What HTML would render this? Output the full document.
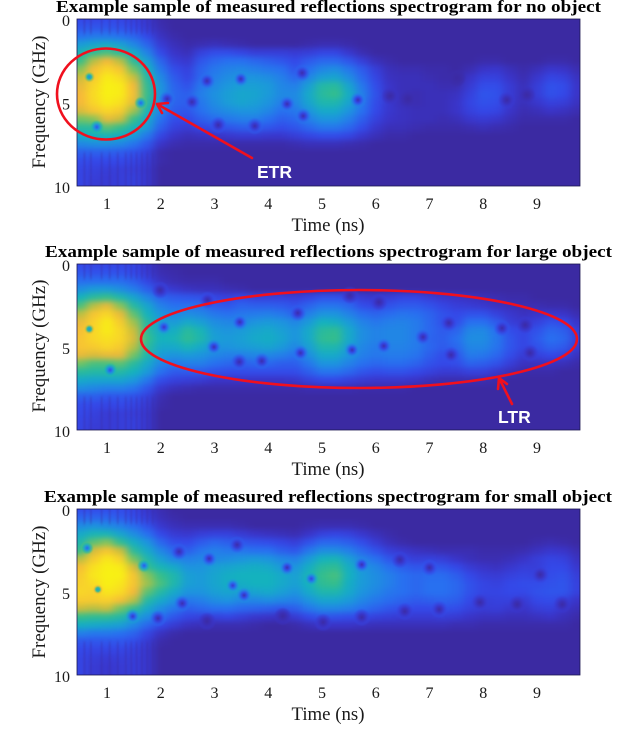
<!DOCTYPE html>
<html lang="en">
<head>
<meta charset="utf-8">
<title>Measured reflections spectrograms</title>
<style>
html,body{margin:0;padding:0;background:#fff;}
svg{display:block;}
text{font-family:"Liberation Serif",serif;fill:#1a1a1a;}
.title{font-weight:bold;font-size:16.5px;fill:#000;}
.tick{font-size:16px;}
.axt{font-size:18.5px;}
.note{font-family:"Liberation Sans",sans-serif;font-weight:bold;font-size:17.5px;fill:#fff;}
</style>
</head>
<body>
<svg id="figure" xmlns="http://www.w3.org/2000/svg" width="640" height="756" viewBox="0 0 640 756">
  <defs id="defs">
    <filter id="smooth" filterUnits="userSpaceOnUse" x="0" y="0" width="640" height="756" color-interpolation-filters="sRGB">
      <feGaussianBlur stdDeviation="4.5 3"/>
    </filter>
    <filter id="soft" filterUnits="userSpaceOnUse" x="0" y="0" width="640" height="756" color-interpolation-filters="sRGB">
      <feGaussianBlur stdDeviation="0.7 1.5"/>
    </filter>
    <clipPath id="clip0"><rect x="77" y="19" width="503" height="167"/></clipPath>
    <clipPath id="clip1"><rect x="77" y="264" width="503" height="166"/></clipPath>
    <clipPath id="clip2"><rect x="77" y="509" width="503" height="166"/></clipPath>
  </defs>
  <rect x="0" y="0" width="640" height="756" fill="#fff"/>

  <text class="title" x="56" y="12" textLength="545" lengthAdjust="spacingAndGlyphs">Example sample of measured reflections spectrogram for no object</text>
  <text class="title" x="45" y="257" textLength="567" lengthAdjust="spacingAndGlyphs">Example sample of measured reflections spectrogram for large object</text>
  <text class="title" x="44" y="502" textLength="568" lengthAdjust="spacingAndGlyphs">Example sample of measured reflections spectrogram for small object</text>

  <g id="panel0"></g>
  <g id="panel1"></g>
  <g id="panel2"></g>

  <text class="axt" x="328" y="231" text-anchor="middle" textLength="73" lengthAdjust="spacingAndGlyphs">Time (ns)</text>
  <text class="axt" x="328" y="475" text-anchor="middle" textLength="73" lengthAdjust="spacingAndGlyphs">Time (ns)</text>
  <text class="axt" x="328" y="720" text-anchor="middle" textLength="73" lengthAdjust="spacingAndGlyphs">Time (ns)</text>

  <text class="axt" transform="translate(45 102) rotate(-90)" text-anchor="middle" textLength="133" lengthAdjust="spacingAndGlyphs">Frequency (GHz)</text>
  <text class="axt" transform="translate(45 346) rotate(-90)" text-anchor="middle" textLength="133" lengthAdjust="spacingAndGlyphs">Frequency (GHz)</text>
  <text class="axt" transform="translate(45 592) rotate(-90)" text-anchor="middle" textLength="133" lengthAdjust="spacingAndGlyphs">Frequency (GHz)</text>

  <g fill="none" stroke="#f0101e" stroke-linecap="round" stroke-linejoin="round">
    <ellipse cx="106" cy="94" rx="49" ry="45.5" stroke-width="2.6"/>
    <path d="M252 158 L157 104 M168 103 L157 104 L162 113" stroke-width="2.6"/>
  </g>
  <text class="note" x="257" y="178">ETR</text>

  <g fill="none" stroke="#f0101e" stroke-linecap="round" stroke-linejoin="round">
    <ellipse cx="359" cy="339" rx="218" ry="49" stroke-width="2.6"/>
    <path d="M512 404 L499 378 M498 389 L499 378 L507 384" stroke-width="2.6"/>
  </g>
  <text class="note" x="498" y="423">LTR</text>
</svg>

<script>
// Heatmap axes: cell centres
const timeCols = [0.5,0.75,1,1.25,1.5,1.75,2,2.25,2.5,2.75,3,3.25,3.5,3.75,4,4.25,4.5,4.75,5,5.25,5.5,5.75,6,6.25,6.5,6.75,7,7.25,7.5,7.75,8,8.25,8.5,8.75,9,9.25,9.5,9.75];
const freqRows = [0,0.5,1,1.5,2,2.5,3,3.5,4,4.5,5,5.5,6,6.5,7,7.5,8,8.5,9,9.5,10];
const xTickLabels = [1,2,3,4,5,6,7,8,9];
const yTickLabels = [0,5,10];

// Spectrogram magnitude (0-100), one row per frequency; trailing background cells omitted
const magnitudeNoObject = [
[11,10,11,10,9,6,1],
[14,14,14,13,11,7,2],
[20,22,22,20,17,11,4,1],
[32,36,38,34,26,17,7,3,1,2,3,2,1,0,0,0,0,1,2,2,1],
[44,52,56,50,38,25,11,5,3,9,12,12,10,8,8,8,7,8,10,10,6,2],
[54,66,74,66,50,34,17,8,6,14,18,20,20,18,16,14,11,15,18,18,14,8,3,1,0,0,0,0,0,0,1,1,0,0,0,1,1],
[62,76,84,78,60,42,22,12,9,17,22,25,26,24,22,20,14,20,26,28,22,15,8,3,2,2,1,1,0,2,5,6,3,1,3,6,5,2],
[68,80,92,86,68,48,27,15,10,18,24,28,30,30,28,24,18,26,34,36,28,18,10,4,3,3,2,1,1,5,9,9,5,2,6,10,9,4],
[72,84,97,92,74,52,30,17,13,22,27,31,34,34,32,26,24,34,48,50,36,22,12,5,3,3,3,2,2,7,12,12,7,3,8,13,12,5],
[74,86,96,92,76,54,30,18,16,24,29,34,37,36,32,27,27,38,50,54,40,24,13,5,3,2,3,3,4,9,14,13,7,3,8,13,11,5],
[74,84,92,88,72,50,28,17,16,22,28,33,36,34,30,24,26,36,46,46,36,22,12,6,3,2,3,3,5,10,13,12,6,3,6,9,8,4],
[70,78,84,80,64,44,25,15,14,20,25,28,30,30,26,20,22,30,38,38,30,20,11,6,4,3,3,3,5,9,11,10,5,2,3,5,4,2],
[60,62,72,68,54,38,20,12,11,16,19,22,24,24,20,16,18,24,30,30,24,16,9,5,4,3,3,2,3,6,7,6,3,1,1,1,1],
[50,50,58,54,44,32,16,9,7,10,12,14,16,16,14,12,14,18,22,22,18,12,6,3,3,2,1,1,1,2,3,2,1],
[38,42,44,40,32,22,10,5,3,4,5,6,7,7,6,6,8,10,12,12,10,6,3,1,1],
[26,28,28,26,21,14,5,2,1,1,1,1,1,1,1,1,2,3,3,3,2,1],
[16,16,16,15,13,9,1],
[12,11,11,11,10,7,1],
[10,9,8,8,8,6],
[10,8,7,8,9,6],
[10,7,7,8,9,6]
];
const magnitudeLargeObject = [
[11,10,10,10,10,6,1],
[14,13,13,13,11,7,2,1],
[19,19,19,19,16,10,4,2,1,1,1],
[28,32,32,28,23,16,9,6,4,3,3,2,1],
[42,50,54,46,36,26,17,15,14,13,10,9,11,9,9,9,8,10,13,13,11,7,6,8,10,10,8,6,5,4,3,2,1,1],
[56,66,72,62,48,36,24,20,20,19,15,14,17,16,16,15,13,17,21,21,18,12,10,13,15,15,13,10,8,7,6,4,3,2,2,1,1],
[66,78,84,72,58,42,30,26,28,26,22,20,22,23,24,22,17,24,30,30,25,19,17,19,21,20,17,13,11,13,13,9,6,4,5,6,5,2],
[72,82,92,80,64,48,34,32,38,34,28,26,26,30,32,30,26,32,42,40,32,25,22,24,25,23,18,13,12,20,20,15,8,6,9,13,11,5],
[76,84,92,84,68,50,38,40,50,44,32,30,32,36,38,34,30,38,50,52,38,28,25,26,26,23,18,15,17,26,27,20,12,10,13,18,16,8],
[78,84,88,84,70,54,42,44,52,46,34,32,34,38,40,36,30,38,52,54,38,28,25,26,26,23,17,16,20,28,28,22,14,10,15,20,18,9],
[78,80,84,80,66,50,38,38,44,38,30,30,32,34,36,32,26,34,46,46,34,26,23,25,25,23,18,15,18,26,26,21,14,10,13,17,15,7],
[72,70,72,72,60,46,32,30,32,30,26,24,24,26,26,24,20,28,38,38,30,24,22,23,23,21,16,12,14,23,22,18,12,7,9,11,9,4],
[60,56,56,58,50,38,26,22,24,24,20,18,16,18,18,16,16,22,30,30,25,20,18,19,19,17,13,11,12,17,16,13,8,4,4,4,3,1],
[50,48,48,48,42,32,20,15,15,15,13,12,12,12,12,12,12,16,21,21,18,14,12,13,13,11,9,7,7,9,9,6,3,1,1,1],
[38,36,36,36,31,22,12,9,8,7,5,5,5,5,5,5,6,9,11,11,9,7,6,6,6,5,3,2,2,2,2,1],
[28,26,24,24,21,14,6,3,2,1,1,1,1,1,1,1,1,2,2,2,2,1,1,1,1],
[16,16,14,14,13,9,2],
[12,11,10,11,10,7,1],
[11,9,7,8,8,6],
[10,8,7,8,9,6],
[10,7,7,8,9,6]
];
const magnitudeSmallObject = [
[12,12,12,12,10,6,2],
[17,17,17,15,12,8,3,1],
[27,29,27,24,19,13,6,3,2,2,2,2,1,0,0,0,0,1,2,2,2,1],
[38,44,44,36,28,20,11,7,6,8,9,9,7,5,4,3,2,5,9,10,9,6,3,1],
[46,58,62,52,40,30,18,12,11,15,18,16,14,13,12,10,8,13,18,18,16,12,7,3,1,0,0,0,0,0,0,0,0,0,1,2,1],
[54,70,78,68,50,38,26,18,16,21,24,22,22,20,20,16,14,22,28,28,24,18,13,8,6,4,3,2,2,2,1,1,1,2,4,6,5,2],
[66,80,90,82,60,46,34,26,24,26,26,28,30,32,30,26,24,32,42,44,34,25,20,14,10,8,9,8,5,3,2,2,3,5,8,10,9,4],
[76,88,96,92,70,52,44,38,30,30,34,36,38,40,38,32,30,40,50,52,40,30,26,20,16,14,15,14,11,7,5,4,6,8,8,11,11,6],
[80,90,97,94,78,62,54,46,34,32,36,40,42,42,42,38,34,44,54,56,42,32,28,24,20,18,19,19,16,11,8,7,9,10,9,12,13,8],
[82,86,94,90,78,64,56,46,34,32,36,40,40,42,42,38,34,42,52,54,40,32,28,24,20,18,20,20,18,13,10,9,11,12,12,13,14,9],
[84,82,90,86,74,58,48,38,30,30,34,36,34,36,38,34,30,38,46,46,38,30,26,22,20,18,20,20,18,13,10,10,11,11,13,14,14,9],
[80,80,82,76,66,48,38,30,22,24,28,30,26,26,28,26,24,30,36,36,32,26,22,19,17,15,16,17,16,11,8,9,9,7,11,12,9,5],
[68,66,68,60,52,38,28,22,16,18,20,20,18,17,16,14,16,22,26,26,24,20,17,14,12,11,11,13,12,9,7,8,6,5,8,9,5,3],
[54,52,52,48,36,28,20,14,10,9,9,10,8,6,5,4,7,11,14,13,12,11,9,8,7,7,7,8,7,5,4,4,3,3,4,5,3,1],
[40,38,36,34,26,18,11,7,4,3,2,2,2,1,0,0,1,3,5,5,5,4,3,3,3,3,3,3,2,2,1,1,1,1,1,1,1],
[24,22,22,20,17,10,4,1],
[14,14,14,14,12,7,1],
[11,10,10,10,9,6],
[10,8,7,8,8,6],
[10,7,6,7,8,6],
[10,7,6,7,8,6]
];

// Interference nulls
const nullTimesNoObject = [0.67,1.63,0.81,2.12,2.58,2.86,3.49,4.63,4.35,4.65,3.07,3.75,5.67,6.27,6.6,7.51,8.44,8.81];
const nullFreqsNoObject = [3.47,5.03,6.47,4.79,4.97,3.71,3.59,3.23,5.09,5.81,6.35,6.41,4.85,4.61,4.79,3.53,4.85,4.55];
const nullTimesLargeObject = [0.67,1.06,2.06,2.99,3.47,3.46,3.88,4.55,4.6,2.87,1.99,5.56,6.15,6.88,7.36,7.4,8.35,8.78,8.87,6.06,5.52];
const nullFreqsLargeObject = [3.92,6.39,3.8,5,3.5,5.9,5.85,2.95,5.36,2.17,1.57,5.18,4.94,4.4,3.55,5.48,3.86,3.67,5.36,2.29,1.87];
const nullTimesSmallObject = [0.63,1.69,0.83,1.48,1.95,2.4,2.34,2.9,3.42,3.34,3.55,4.35,4.8,2.86,4.27,5.74,6.45,7,6.54,7.18,7.94,8.63,9.06,9.47,5.74,5.02];
const nullFreqsSmallObject = [2.35,3.41,4.85,6.47,6.59,5.69,2.57,2.99,2.15,4.61,5.2,3.53,4.2,6.77,6.47,3.35,3.05,3.53,6.17,6.05,5.63,5.75,3.95,5.75,6.53,6.83];

// Ringing streaks at the start of the record (ns)
const streakTimes = [0.58,0.7,0.9,1.05,1.2,1.35,1.45,1.55,1.65,1.75,1.85];

const NS = 'http://www.w3.org/2000/svg';
const svg = document.getElementById('figure');
const defs = document.getElementById('defs');

const panelTops = [19, 264, 509];
const panelHeights = [167, 166, 166];
const magnitudes = [magnitudeNoObject, magnitudeLargeObject, magnitudeSmallObject];
const nullTimes = [nullTimesNoObject, nullTimesLargeObject, nullTimesSmallObject];
const nullFreqs = [nullFreqsNoObject, nullFreqsLargeObject, nullFreqsSmallObject];

function xScale(t) { return 107 + (t - 1) * 53.75; }
function yScaleFor(p) {
  return function (f) { return panelTops[p] + f * panelHeights[p] / 10; };
}

const cmapStops = [
  [0,[59,42,162]],[5,[58,52,200]],[11,[52,72,232]],[20,[40,112,240]],[31,[28,152,220]],
  [42,[20,178,190]],[54,[52,190,140]],[61,[122,196,96]],[67,[196,190,62]],
  [74,[246,184,58]],[84,[248,214,40]],[94,[248,240,20]]
];
function cmap(v) {
  v = Math.max(0, Math.min(94, v));
  for (let i = 1; i < cmapStops.length; i++) {
    if (v <= cmapStops[i][0]) {
      const a = cmapStops[i - 1], b = cmapStops[i];
      const k = (v - a[0]) / (b[0] - a[0]);
      return 'rgb(' + [0, 1, 2].map(function (c) { return Math.round(a[1][c] + (b[1][c] - a[1][c]) * k); }).join(',') + ')';
    }
  }
  return 'rgb(248,240,20)';
}
function cellValue(m, r, c) {
  r = Math.max(0, Math.min(freqRows.length - 1, r));
  c = Math.max(0, Math.min(timeCols.length - 1, c));
  return m[r][c] || 0;
}
function lookup(m, t, f) {
  const c = (t - timeCols[0]) / (timeCols[1] - timeCols[0]);
  const r = (f - freqRows[0]) / (freqRows[1] - freqRows[0]);
  const c0 = Math.floor(c), r0 = Math.floor(r), dc = c - c0, dr = r - r0;
  return cellValue(m, r0, c0) * (1 - dc) * (1 - dr) + cellValue(m, r0, c0 + 1) * dc * (1 - dr) +
         cellValue(m, r0 + 1, c0) * (1 - dc) * dr + cellValue(m, r0 + 1, c0 + 1) * dc * dr;
}

function drawPanel(p) {
  const root = document.getElementById('panel' + p);
  const yScale = yScaleFor(p);
  const m = magnitudes[p];
  const top = panelTops[p], h = panelHeights[p];

  const clipG = document.createElementNS(NS, 'g');
  clipG.setAttribute('clip-path', 'url(#clip' + p + ')');
  
  
  root.appendChild(clipG);

  const cells = document.createElementNS(NS, 'g');
  cells.setAttribute('filter', 'url(#smooth)');
  
  
  clipG.appendChild(cells);

  const dt = timeCols[1] - timeCols[0];
  const df = freqRows[1] - freqRows[0];
  freqRows.forEach(function (f, r) {
    timeCols.forEach(function (t, c) {
      let x0 = xScale(t - dt / 2), x1 = xScale(t + dt / 2);
      let y0 = yScale(f - df / 2), y1 = yScale(f + df / 2);
      if (c === 0) x0 -= 40;
      if (c === timeCols.length - 1) x1 += 40;
      if (r === 0) y0 -= 30;
      if (r === freqRows.length - 1) y1 += 30;
      const cell = document.createElementNS(NS, 'rect');
      
      
      cell.setAttribute('x', x0.toFixed(2));
      cell.setAttribute('y', y0.toFixed(2));
      cell.setAttribute('width', (x1 - x0 + 0.6).toFixed(2));
      cell.setAttribute('height', (y1 - y0 + 0.6).toFixed(2));
      cell.setAttribute('fill', cmap(m[r][c] || 0));
      cells.appendChild(cell);
    });
  });

  const streaks = document.createElementNS(NS, 'g');
  streaks.setAttribute('filter', 'url(#soft)');
  
  
  clipG.appendChild(streaks);
  streakTimes.forEach(function (t) {
    [[-0.2, 0.9], [8, 10.2]].forEach(function (band) {
      const s = document.createElementNS(NS, 'rect');
      
      
      s.setAttribute('x', (xScale(t) - 1).toFixed(2));
      s.setAttribute('y', yScale(band[0]).toFixed(2));
      s.setAttribute('width', '2');
      s.setAttribute('height', (yScale(band[1]) - yScale(band[0])).toFixed(2));
      s.setAttribute('fill', '#3b2aa2');
      s.setAttribute('opacity', '0.3');
      streaks.appendChild(s);
    });
  });

  nullTimes[p].forEach(function (t, i) {
    const f = nullFreqs[p][i];
    const v = lookup(m, t, f);
    const core = Math.max(v * 0.08, (v - 27) * 0.55);
    const id = 'null-' + p + '-' + i;
    const grad = document.createElementNS(NS, 'radialGradient');
    grad.setAttribute('id', id);
    [[0, 0, 1], [0.35, 0.35, 0.95], [0.7, 0.75, 0.6], [1, 1, 0]].forEach(function (st) {
      const stop = document.createElementNS(NS, 'stop');
      stop.setAttribute('offset', st[0]);
      stop.setAttribute('stop-color', cmap(core + (v - core) * st[1]));
      stop.setAttribute('stop-opacity', st[2]);
      grad.appendChild(stop);
    });
    defs.appendChild(grad);
    const dot = document.createElementNS(NS, 'circle');
    
    
    dot.setAttribute('cx', xScale(t).toFixed(2));
    dot.setAttribute('cy', yScale(f).toFixed(2));
    dot.setAttribute('r', (5 + (1 - v / 100) * 4.5).toFixed(2));
    dot.setAttribute('fill', 'url(#' + id + ')');
    clipG.appendChild(dot);
  });

  const frame = document.createElementNS(NS, 'rect');
  
  
  frame.setAttribute('x', '77');
  frame.setAttribute('y', top);
  frame.setAttribute('width', '503');
  frame.setAttribute('height', h);
  frame.setAttribute('fill', 'none');
  frame.setAttribute('stroke', '#1c1850');
  frame.setAttribute('stroke-width', '0.8');
  root.appendChild(frame);

  xTickLabels.forEach(function (t) {
    const label = document.createElementNS(NS, 'text');
    
    
    label.setAttribute('class', 'tick');
    label.setAttribute('x', xScale(t).toFixed(2));
    label.setAttribute('y', top + h + 23);
    label.setAttribute('text-anchor', 'middle');
    label.textContent = t;
    root.appendChild(label);
  });
  yTickLabels.forEach(function (f) {
    const label = document.createElementNS(NS, 'text');
    
    
    label.setAttribute('class', 'tick');
    label.setAttribute('x', '70');
    label.setAttribute('y', (yScale(f) + 7).toFixed(2));
    label.setAttribute('text-anchor', 'end');
    label.textContent = f;
    root.appendChild(label);
  });
}
[0, 1, 2].forEach(drawPanel);
</script>
</body>
</html>
